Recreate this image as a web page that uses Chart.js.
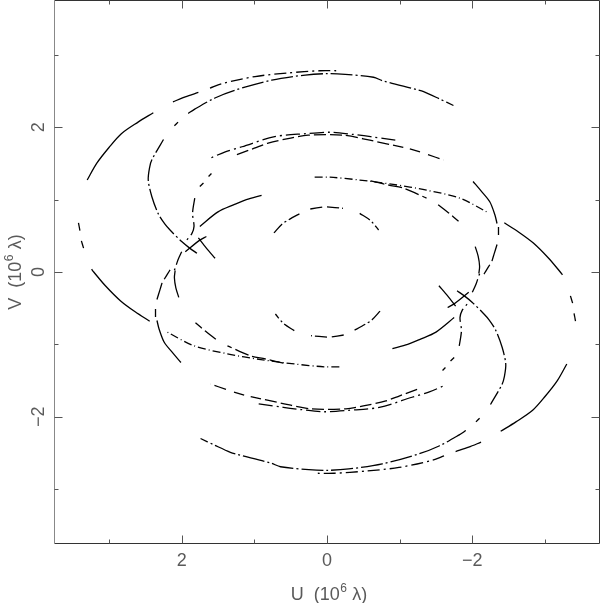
<!DOCTYPE html>
<html>
<head>
<meta charset="utf-8">
<script src="https://cdn.jsdelivr.net/npm/chart.js@4.4.1/dist/chart.umd.min.js"></script>
<style>
  html, body { margin: 0; padding: 0; background: #fff; }
  canvas { display: block; }
</style>
</head>
<body>
<canvas id="uvChart" width="600" height="603"></canvas>
<script>
// UV coverage, units of 10^6 wavelengths. Points are [u, v] read off the
// plot; null marks a break in the track (no data for that stretch).
// Only the v >= 0 half is listed -- each baseline also samples (-u, -v),
// so the other half is the conjugate of these.

const U_LIMIT = 3.75;
const V_LIMIT = 3.75;
const MAJOR_TICKS = [-2, 0, 2];
const MINOR_TICKS = [-3, -1, 1, 3];
const TICK_LABELS = { '-2': '\u22122', '0': '0', '2': '2' };

const aSide = [
  [3.42, 0.68], [3.40, 0.57], null,
  [3.38, 0.43], [3.35, 0.33], null,
  [3.30, 1.27], [3.17, 1.50], [3.00, 1.72], [2.83, 1.91], [2.60, 2.07], [2.39, 2.20], null,
  [2.12, 2.35], [1.95, 2.42], [1.77, 2.48],
];
const aTop = [[1.61, 2.54], [1.45, 2.60], [0.99, 2.70], [0.53, 2.75], [0.10, 2.78], [-0.13, 2.78]];
const aRight = [[-2.44, 0.68], [-2.64, 0.55], [-2.84, 0.40], [-3.05, 0.19], [-3.21, 0.00], [-3.24, -0.04]];

const t2 = [
  [1.79, 0.26], [1.89, 0.33], [2.00, 0.42], [2.16, 0.58], [2.23, 0.66], [2.32, 0.80],
  [2.41, 1.04], [2.46, 1.27], [2.44, 1.45], [2.41, 1.55], [2.25, 1.83], null,
  [2.10, 2.02], [2.05, 2.07], null,
  [1.91, 2.19], [1.82, 2.25], [1.55, 2.40], [1.27, 2.51], [0.76, 2.65], [0.30, 2.72],
  [0.00, 2.74], [-0.25, 2.73], [-0.64, 2.69], [-0.77, 2.64], [-1.23, 2.52], [-1.33, 2.49],
  [-1.55, 2.39], [-1.74, 2.30],
];

const b1 = [
  [-0.94, 1.82], [-0.60, 1.87], [-0.36, 1.90], [-0.04, 1.93], [0.30, 1.91], [0.72, 1.87],
  [1.17, 1.73], [1.40, 1.66], [1.61, 1.57], null,
  [1.59, 1.36], [1.63, 1.32], null,
  [1.70, 1.23], [1.75, 1.18], null,
  [1.82, 1.02], [1.85, 0.81], [1.83, 0.63], [1.86, 0.53], [1.93, 0.44], null,
  [2.00, 0.28], [2.05, 0.17], [2.09, 0.05], [2.12, -0.02],
];
const b1Right = [
  [-2.01, 1.25], [-2.12, 1.12], [-2.24, 0.97], [-2.31, 0.79], [-2.34, 0.67], null,
  [-2.36, 0.62], [-2.36, 0.51], null,
  [-2.34, 0.38], [-2.30, 0.25], [-2.27, 0.15], null,
  [-2.24, 0.10], [-2.19, 0.02], [-2.16, -0.03],
];

const b2 = [
  [1.24, 1.62], [1.00, 1.71], [0.81, 1.78], [0.50, 1.85], [0.26, 1.89], [-0.22, 1.89],
  [-0.59, 1.82], [-1.05, 1.72], null,
  [-1.14, 1.70], [-1.28, 1.66], null,
  [-1.39, 1.62], [-1.60, 1.55],
];

const l1 = [[0.17, 1.31], [-0.04, 1.31], [-0.45, 1.27], [-0.91, 1.21], [-1.37, 1.13], [-1.83, 1.02], [-2.20, 0.83]];
const l2 = [
  [-0.60, 1.26], [-0.85, 1.20], [-1.05, 1.16], [-1.37, 1.02], null,
  [-1.53, 0.93], [-1.67, 0.82], [-1.81, 0.70],
];

const e1 = [
  [0.73, 0.54], [0.62, 0.66], [0.53, 0.72], [0.35, 0.82], null,
  [0.23, 0.87], [0.05, 0.90], null,
  [0.00, 0.90], [-0.22, 0.88], null,
  [-0.45, 0.81], [-0.60, 0.71], [-0.71, 0.58],
];

const f6 = [[0.90, 1.06], [1.11, 1.00], [1.28, 0.93], [1.50, 0.83], [1.75, 0.63]];
const hCross = [[1.66, 0.49], [1.75, 0.44], [1.95, 0.28]];
const gCross = [[1.77, 0.47], [1.66, 0.33], [1.54, 0.19]];
const kArc = [[-2.04, 0.35], [-2.08, 0.22], [-2.10, 0.08], [-2.09, -0.02]];

// which dash each track is drawn with
const tracks = [
  { pts: aSide, dash: [] },
  { pts: aTop, dash: [12, 4, 2, 4] },
  { pts: aRight, dash: [] },
  { pts: t2, dash: [22, 3, 2, 3] },
  { pts: b1, dash: [14, 4, 2, 4] },
  { pts: b1Right, dash: [] },
  { pts: b2, dash: [12, 4] },
  { pts: l1, dash: [8, 3, 1, 3] },
  { pts: l2, dash: [14, 4] },
  { pts: e1, dash: [12, 3, 2, 3] },
  { pts: f6, dash: [] },
  { pts: hCross, dash: [] },
  { pts: gCross, dash: [] },
  { pts: kArc, dash: [] },
];

function conjugate(pts) {
  return pts.map(p => (p ? [-p[0], -p[1]] : null));
}

// split a track at its nulls, one dataset per unbroken piece
function segments(pts) {
  const out = [];
  let cur = [];
  pts.forEach(p => {
    if (p === null) {
      if (cur.length) out.push(cur);
      cur = [];
    } else {
      cur.push({ x: p[0], y: p[1] });
    }
  });
  if (cur.length) out.push(cur);
  return out;
}

const datasets = [];
tracks.forEach(t => {
  [t.pts, conjugate(t.pts)].forEach(pts => {
    segments(pts).forEach(seg => {
      datasets.push({
        data: seg,
        showLine: true,
        borderColor: '#000',
        borderWidth: 1.3,
        borderDash: t.dash,
        pointRadius: 0,
        tension: 0.3,
        fill: false,
      });
    });
  });
});

const TEXT_COLOR = '#5a5a5a';
const FONT = '"Liberation Sans", Arial, sans-serif';

// "U (10^6 λ)" style label: main text with a raised 6, centred on 0,0
function drawAxisTitle(ctx, letter) {
  const head = letter + '  (10';
  const sup = '6';
  const tail = ' \u03bb)';
  ctx.font = '18px ' + FONT;
  const wHead = ctx.measureText(head).width;
  const wTail = ctx.measureText(tail).width;
  ctx.font = '12px ' + FONT;
  const wSup = ctx.measureText(sup).width + 1;
  let x = -(wHead + wSup + wTail) / 2;
  ctx.textAlign = 'left';
  ctx.font = '18px ' + FONT;
  ctx.fillText(head, x, 0);
  x += wHead;
  ctx.font = '12px ' + FONT;
  ctx.fillText(sup, x + 0.5, -8);
  x += wSup;
  ctx.font = '18px ' + FONT;
  ctx.fillText(tail, x, 0);
}

const framePlugin = {
  id: 'frame',
  afterDraw(chart) {
    const { ctx, chartArea: a, scales: { x, y } } = chart;
    ctx.save();
    ctx.lineWidth = 1;

    // frame
    ctx.strokeStyle = '#333';
    ctx.beginPath();
    ctx.moveTo(a.left, a.top); ctx.lineTo(a.right, a.top);
    ctx.lineTo(a.right, a.bottom); ctx.lineTo(a.left, a.bottom);
    ctx.stroke();
    ctx.strokeStyle = '#888';
    ctx.beginPath();
    ctx.moveTo(a.left, a.top); ctx.lineTo(a.left, a.bottom);
    ctx.stroke();

    // inward ticks on all four sides
    ctx.strokeStyle = '#555';
    ctx.beginPath();
    [[MAJOR_TICKS, 8], [MINOR_TICKS, 4]].forEach(([vals, len]) => {
      vals.forEach(t => {
        const px = Math.round(x.getPixelForValue(t)) + 0.5;
        ctx.moveTo(px, a.bottom); ctx.lineTo(px, a.bottom - len);
        ctx.moveTo(px, a.top); ctx.lineTo(px, a.top + len);
        const py = Math.round(y.getPixelForValue(t)) + 0.5;
        ctx.moveTo(a.left, py); ctx.lineTo(a.left + len, py);
        ctx.moveTo(a.right, py); ctx.lineTo(a.right - len, py);
      });
    });
    ctx.stroke();

    // tick labels
    ctx.fillStyle = TEXT_COLOR;
    ctx.font = '18px ' + FONT;
    ctx.textAlign = 'center';
    ctx.textBaseline = 'alphabetic';
    MAJOR_TICKS.forEach(t => {
      ctx.fillText(TICK_LABELS[t], x.getPixelForValue(t), a.bottom + 22);
      ctx.save();
      ctx.translate(43.5, y.getPixelForValue(t));
      ctx.rotate(-Math.PI / 2);
      ctx.fillText(TICK_LABELS[t], 0, 0);
      ctx.restore();
    });

    // axis titles
    ctx.save();
    ctx.translate((a.left + a.right) / 2 + 2, 600);
    drawAxisTitle(ctx, 'U');
    ctx.restore();
    ctx.save();
    ctx.translate(21, (a.top + a.bottom) / 2);
    ctx.rotate(-Math.PI / 2);
    drawAxisTitle(ctx, 'V');
    ctx.restore();

    ctx.restore();
  },
};

new Chart(document.getElementById('uvChart'), {
  type: 'scatter',
  data: { datasets },
  options: {
    responsive: false,
    devicePixelRatio: 1,
    animation: false,
    layout: { padding: { left: 54.5, right: 0.5, top: 0.5, bottom: 59.5 } },
    scales: {
      x: { type: 'linear', min: -U_LIMIT, max: U_LIMIT, reverse: true, display: false },
      y: { type: 'linear', min: -V_LIMIT, max: V_LIMIT, display: false },
    },
    plugins: { legend: { display: false }, tooltip: { enabled: false } },
    events: [],
  },
  plugins: [framePlugin],
});
</script>
</body>
</html>
